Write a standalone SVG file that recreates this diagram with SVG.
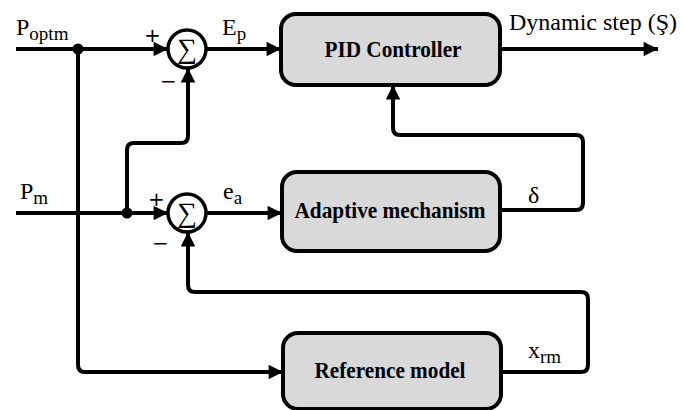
<svg xmlns="http://www.w3.org/2000/svg" width="684" height="410" viewBox="0 0 684 410">
<defs>
<marker id="arr" viewBox="0 0 10 10" refX="10" refY="5" markerWidth="4" markerHeight="3.6" orient="auto" markerUnits="strokeWidth">
<path d="M0,0 L10,5 L0,10 Z" fill="#000"/>
</marker>
<style>
.w{fill:none;stroke:#000;stroke-width:4;stroke-linejoin:round}
.box{fill:#d9d9d9;stroke:#000;stroke-width:4}
.sum{fill:#fff;stroke:#000;stroke-width:3.5}
.bt{font-family:"Liberation Serif","Times New Roman",serif;font-weight:700;font-size:23px;text-anchor:middle}
.lb{font-family:"Liberation Serif",serif;font-size:24px}
.sb{font-size:19px}
.sg{font-family:"DejaVu Sans",sans-serif;font-size:20px}
.sig{font-family:"Liberation Serif",serif;font-size:28px;text-anchor:middle}
</style>
</defs>
<rect width="684" height="410" fill="#fff"/>
<g id="connectors">
<path class="w" d="M16,49 H168" marker-end="url(#arr)"/>
<path class="w" d="M206,49 H281" marker-end="url(#arr)"/>
<path class="w" d="M500,49 H658" marker-end="url(#arr)"/>
<path class="w" d="M16,213 H168" marker-end="url(#arr)"/>
<path class="w" d="M206,213 H282" marker-end="url(#arr)"/>
<path class="w" d="M127,213 V150 Q127,143 134,143 H181 Q188,143 188,136 V68" marker-end="url(#arr)"/>
<path class="w" d="M500,210 H576 Q583,210 583,203 V142 Q583,135 576,135 H400 Q393,135 393,128 V85" marker-end="url(#arr)"/>
<path class="w" d="M78,49 V365 Q78,372 85,372 H283" marker-end="url(#arr)"/>
<path class="w" d="M500,372 H581 Q588,372 588,365 V299 Q588,292 581,292 H195 Q188,292 188,285 V232" marker-end="url(#arr)"/>
<circle cx="78" cy="49" r="5.5" fill="#000"/>
<circle cx="127" cy="213" r="5.5" fill="#000"/>
</g>
<g id="sum1">
<circle class="sum" cx="187" cy="49" r="19"/>
<text class="sig" x="187" y="58">∑</text>
<text class="sg" x="144" y="42">+</text>
<text class="sg" x="160" y="88">−</text>
</g>
<g id="sum2">
<circle class="sum" cx="187" cy="213" r="19"/>
<text class="sig" x="187" y="222">∑</text>
<text class="sg" x="148" y="206">+</text>
<text class="sg" x="152" y="250">−</text>
</g>
<g id="pid">
<rect class="box" x="281" y="14" width="219" height="71" rx="15"/>
<text class="bt" x="393" y="57" textLength="137" lengthAdjust="spacingAndGlyphs">PID Controller</text>
</g>
<g id="adaptive">
<rect class="box" x="282" y="172" width="218" height="79" rx="15"/>
<text class="bt" x="390" y="218" textLength="191" lengthAdjust="spacingAndGlyphs">Adaptive mechanism</text>
</g>
<g id="reference">
<rect class="box" x="283" y="333" width="218" height="76" rx="15"/>
<text class="bt" x="390" y="378" textLength="151" lengthAdjust="spacingAndGlyphs">Reference model</text>
</g>
<g id="labels">
<text class="lb" x="16" y="35">P<tspan class="sb" dy="5">optm</tspan></text>
<text class="lb" x="222" y="35">E<tspan class="sb" dy="5">p</tspan></text>
<text class="lb" x="509" y="30">Dynamic step (Ş)</text>
<text class="lb" x="20" y="199">P<tspan class="sb" dy="5">m</tspan></text>
<text class="lb" x="223" y="199">e<tspan class="sb" dy="5">a</tspan></text>
<text class="lb" x="528" y="203">δ</text>
<text class="lb" x="528" y="358">x<tspan class="sb" dy="5">rm</tspan></text>
</g>
</svg>
